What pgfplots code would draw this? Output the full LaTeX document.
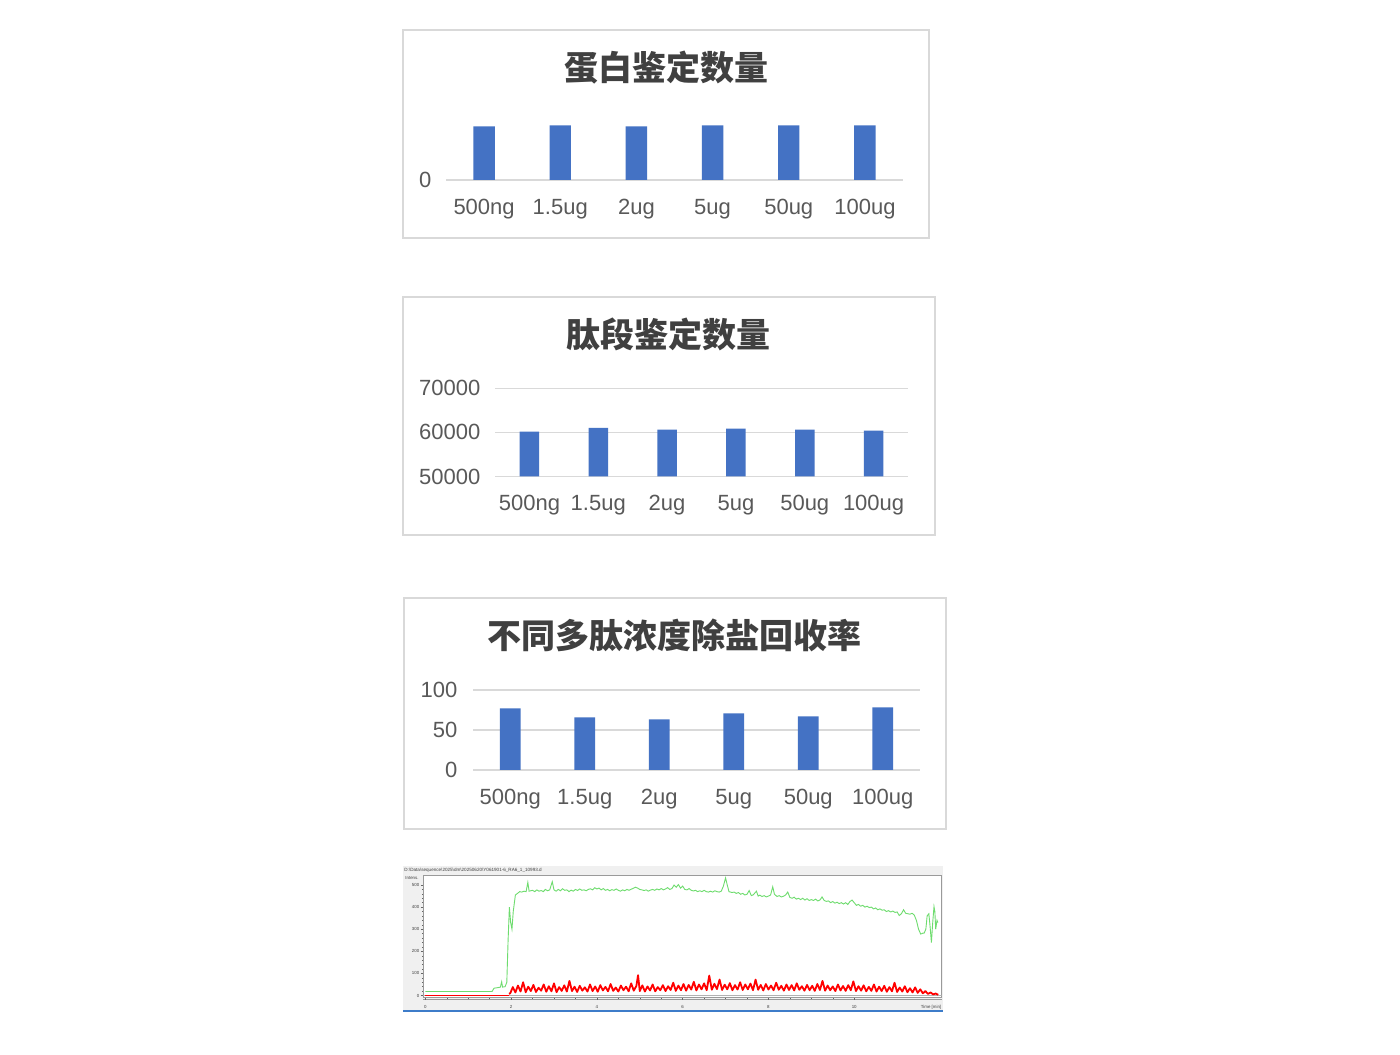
\documentclass[border=0pt]{standalone}
\usepackage{pgfplots}
\pgfplotsset{compat=1.18}
\usepackage{fontspec}
\setmainfont{Liberation Sans}
\newfontfamily\cjk{Noto Sans CJK SC}
\definecolor{barblue}{HTML}{4472C4}
\definecolor{gridgray}{HTML}{D9D9D9}
\definecolor{ticktext}{HTML}{595959}
\definecolor{titletext}{HTML}{404040}
\definecolor{chromgreen}{RGB}{110,220,110}
\definecolor{chrombg}{HTML}{F0F0F0}
\definecolor{chromframe}{HTML}{9A9A9A}
\definecolor{chromblue}{HTML}{3D7CC9}
\pgfplotsset{barchart/.style={
  scale only axis, anchor=south west, ybar, bar shift=0pt,
  xmin=-0.5, xmax=5.5, xtick={0,...,5},
  xticklabels={500ng,1.5ug,2ug,5ug,50ug,100ug},
  axis line style={draw=none}, major tick length=0pt,
  ymajorgrids, grid style={gridgray, line width=0.75pt},
  ticklabel style={font=\fontsize{11}{13}\selectfont, text=ticktext},
  xticklabel style={yshift=-6pt},
  scaled y ticks=false,
  /pgf/number format/assume math mode=true,
  /pgf/number format/1000 sep={},
}}
\begin{document}
\begin{tikzpicture}
\path[use as bounding box, fill=white] (0,0) rectangle (700pt,527pt);

% ---------- chart 1 ----------
\draw[gridgray, line width=0.75pt] (201.5pt,512pt) rectangle (464.5pt,408pt);
\node[font=\cjk\bfseries\fontsize{17}{20}\selectfont, text=titletext] at (333pt,493pt) {蛋白鉴定数量};
\begin{axis}[barchart, at={(223pt,437pt)}, width=228.5pt, height=34.2pt,
  ymin=0, ymax=10000, ytick={0}, bar width=10.7pt, yticklabel style={xshift=-3.8pt}]
\addplot[fill=barblue, draw=none] coordinates {(0,7850) (1,8000) (2,7850) (3,8000) (4,8000) (5,8000)};
\end{axis}

% ---------- chart 2 ----------
\draw[gridgray, line width=0.75pt] (201.5pt,378.5pt) rectangle (467.5pt,259.5pt);
\node[font=\cjk\bfseries\fontsize{17}{20}\selectfont, text=titletext] at (334pt,360pt) {肽段鉴定数量};
\begin{axis}[barchart, at={(247.5pt,288.75pt)}, width=206.5pt, height=44.1pt,
  ymin=50000, ymax=70000, ytick={50000,60000,70000}, bar width=9.75pt, yticklabel style={xshift=-3.8pt}]
\addplot[fill=barblue, draw=none] coordinates {(0,60150) (1,61050) (2,60600) (3,60830) (4,60600) (5,60380)};
\end{axis}

% ---------- chart 3 ----------
\draw[gridgray, line width=0.75pt] (202pt,228pt) rectangle (473pt,112.5pt);
\node[font=\cjk\bfseries\fontsize{17}{20}\selectfont, text=titletext] at (337pt,209.5pt) {不同多肽浓度除盐回收率};
\begin{axis}[barchart, at={(236.5pt,142pt)}, width=223.5pt, height=40pt,
  ymin=0, ymax=100, ytick={0,50,100}, bar width=10.35pt, yticklabel style={xshift=-4.3pt}]
\addplot[fill=barblue, draw=none] coordinates {(0,77.1) (1,65.8) (2,63.3) (3,70.8) (4,67.1) (5,78.3)};
\end{axis}

% ---------- chromatogram ----------
\fill[chrombg] (201.5pt,94pt) rectangle (471.5pt,22pt);
\draw[chromblue, line width=1pt] (201.5pt,21.3pt) -- (471.5pt,21.3pt);
\node[anchor=west, inner sep=0pt, font=\fontsize{2.3}{2.7}\selectfont, text=black!75] at (202pt,91.6pt)
  {D:\textbackslash Data\textbackslash sequence\textbackslash 2025\textbackslash dm\textbackslash 20250620\textbackslash Y061901-6\_RA6\_1\_10993.d};
\node[inner sep=0pt, font=\fontsize{2.2}{2.6}\selectfont, text=black!75] at (206pt,88pt) {Intens.};
\node[inner sep=0pt, font=\fontsize{2.2}{2.6}\selectfont, text=black!75] at (465.5pt,23.2pt) {Time [min]};
\draw[chromframe, line width=0.3pt] (211.65pt,27.35pt) -- (470.85pt,27.35pt);
\begin{axis}[scale only axis, anchor=south west, at={(211.65pt,28.35pt)},
  width=259.2pt, height=61pt,
  xmin=-0.047, xmax=12.04, ymin=-8.1, ymax=543.9,
  axis background/.style={fill=white},
  axis line style={chromframe, line width=0.4pt},
  xtick={0,2,...,10}, ytick={0,100,...,500},
  minor x tick num=3, minor y tick num=4,
  tick align=outside, major tick length=1.2pt, minor tick length=0.6pt,
  tick style={black!60, line width=0.2pt},
  xtick pos=bottom, ytick pos=left,
  ticklabel style={font=\fontsize{2.2}{2.6}\selectfont, text=black!75, inner sep=0.6pt},
  xticklabel style={yshift=-2.2pt},
  /pgf/number format/assume math mode=true,
  clip=true]
\addplot[gray!60, line width=0.25pt] coordinates {(-0.05,0) (12.05,0)};
\addplot[red, line width=0.3pt] coordinates {(0,1) (1.95,1)};
\addplot[red, line width=0.9pt, line join=round] table {
x y
1.95 8
1.98 10
2.04 38
2.10 14
2.16 45
2.22 18
2.28 60
2.34 15
2.40 40
2.46 20
2.52 48
2.58 16
2.64 35
2.70 22
2.76 50
2.82 17
2.88 42
2.94 19
3.00 55
3.06 15
3.12 38
3.18 21
3.24 46
3.30 18
3.36 66
3.42 20
3.48 40
3.54 16
3.60 44
3.66 22
3.72 37
3.78 18
3.84 50
3.90 20
3.96 41
4.02 17
4.08 47
4.14 23
4.20 39
4.26 19
4.32 52
4.38 21
4.44 36
4.50 18
4.56 45
4.62 24
4.68 40
4.74 19
4.80 55
4.86 22
4.92 43
4.96 92
5.00 20
5.06 46
5.12 18
5.18 41
5.24 23
5.30 50
5.36 19
5.42 38
5.48 24
5.54 47
5.60 20
5.66 42
5.72 25
5.78 58
5.84 21
5.90 45
5.96 24
6.02 52
6.08 22
6.14 48
6.20 27
6.26 62
6.32 23
6.38 50
6.44 28
6.50 55
6.56 24
6.62 90
6.68 26
6.74 53
6.80 29
6.86 72
6.92 25
6.98 49
7.04 28
7.10 56
7.16 24
7.22 47
7.28 27
7.34 60
7.40 25
7.46 50
7.52 28
7.58 54
7.64 24
7.70 72
7.76 26
7.82 48
7.88 23
7.94 52
8.00 27
8.06 45
8.12 24
8.18 58
8.24 26
8.30 44
8.36 22
8.42 50
8.48 25
8.54 47
8.60 23
8.66 55
8.72 26
8.78 42
8.84 22
8.90 48
8.96 24
9.02 44
9.08 21
9.14 52
9.20 25
9.26 66
9.32 22
9.38 45
9.44 24
9.50 41
9.56 20
9.62 50
9.68 23
9.74 43
9.80 21
9.86 47
9.92 24
9.98 64
10.04 20
10.10 42
10.16 22
10.22 46
10.28 19
10.34 39
10.40 21
10.46 50
10.52 18
10.58 40
10.64 20
10.70 44
10.76 17
10.82 38
10.88 19
10.94 58
11.00 16
11.06 36
11.12 18
11.18 42
11.24 15
11.30 33
11.36 14
11.42 37
11.48 12
11.54 28
11.60 10
11.66 20
11.72 7
11.78 14
11.84 5
11.90 9
11.96 3
};
\addplot[chromgreen, line width=0.45pt] table {
x y
0 18
0.5 18
1.0 18
1.5 18
1.56 19
1.60 33
1.70 36
1.75 38
1.78 62
1.80 38
1.86 40
1.90 60
1.93 250
1.96 400
1.99 330
2.02 300
2.05 380
2.10 455
2.15 462
2.20 470
2.25 468
2.30 472
2.35 470
2.39 512
2.42 472
2.50 476
2.55 470
2.60 478
2.65 472
2.70 475
2.75 470
2.80 480
2.85 474
2.90 478
2.96 515
3.00 478
3.05 472
3.10 480
3.15 474
3.20 483
3.25 476
3.30 478
3.35 470
3.40 477
3.45 472
3.50 480
3.55 475
3.60 482
3.65 476
3.70 478
3.75 474
3.80 480
3.85 483
3.90 478
3.95 488
4.00 482
4.05 486
4.10 478
4.15 484
4.20 476
4.25 480
4.30 474
4.35 479
4.40 476
4.45 482
4.50 476
4.55 472
4.60 478
4.65 474
4.70 480
4.75 476
4.80 481
4.85 485
4.90 490
4.95 486
5.00 480
5.05 478
5.10 475
5.15 478
5.20 472
5.25 477
5.30 480
5.35 476
5.40 482
5.45 478
5.50 484
5.55 478
5.60 482
5.65 488
5.70 480
5.75 484
5.80 500
5.85 490
5.90 502
5.95 486
6.00 495
6.05 480
6.10 478
6.15 484
6.20 476
6.25 473
6.30 476
6.35 470
6.40 474
6.45 470
6.50 476
6.55 470
6.60 468
6.65 472
6.70 468
6.75 474
6.80 470
6.85 468
6.90 472
6.95 495
7.00 532
7.04 500
7.08 470
7.15 466
7.20 468
7.25 462
7.30 466
7.35 458
7.40 462
7.45 455
7.50 458
7.55 475
7.60 452
7.65 456
7.70 468
7.72 472
7.76 450
7.80 454
7.85 448
7.90 452
7.95 446
8.00 450
8.05 455
8.10 492
8.14 458
8.20 448
8.25 452
8.30 446
8.35 449
8.40 455
8.45 468
8.50 444
8.55 440
8.60 445
8.65 436
8.70 440
8.75 434
8.80 440
8.85 432
8.90 438
8.95 430
9.00 434
9.05 430
9.10 436
9.15 428
9.20 432
9.25 446
9.30 430
9.35 426
9.40 428
9.45 420
9.50 425
9.55 418
9.60 422
9.65 416
9.70 420
9.75 414
9.80 420
9.85 412
9.90 425
9.95 432
10.00 420
10.05 408
10.10 412
10.15 404
10.20 408
10.25 400
10.30 404
10.35 398
10.40 400
10.45 392
10.50 396
10.55 388
10.60 392
10.65 386
10.70 388
10.75 380
10.80 384
10.85 378
10.90 382
10.95 376
11.00 378
11.05 362
11.10 370
11.15 388
11.20 372
11.25 370
11.30 368
11.35 372
11.40 364
11.45 340
11.50 300
11.55 278
11.60 282
11.63 282
11.67 300
11.70 360
11.74 370
11.77 310
11.80 240
11.83 330
11.86 402
11.88 380
11.90 300
11.93 340
11.95 330
};
\end{axis}
\end{tikzpicture}
\end{document}
